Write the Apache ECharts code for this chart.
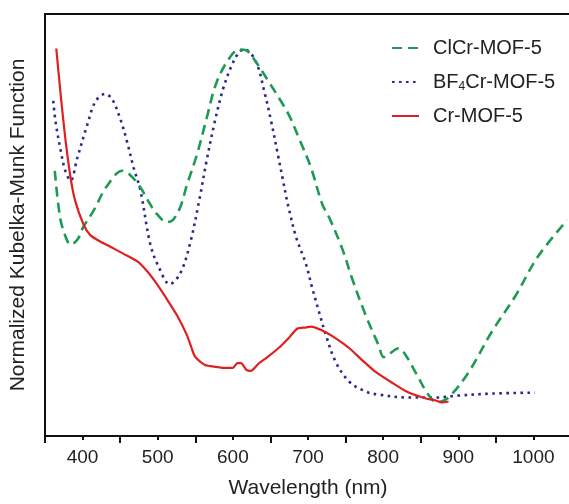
<!DOCTYPE html>
<html><head><meta charset="utf-8">
<script src="https://cdn.jsdelivr.net/npm/echarts@6/dist/echarts.min.js"></script>
<style>html,body{margin:0;padding:0;background:#fff;overflow:hidden;width:569px;height:504px}#c{width:600px;height:504px}</style>
</head><body><div id="c"></div>
<script>
// Wavelength (nm) and normalized Kubelka-Munk values (arbitrary units)
const clcrX = [363,370,377,384,393,401,415,432,453,463,477,490,499,512,520,530,539,552,565,578,596,609,618,631,648,662,675,688,704,719,728,746,759,777,794,801,821,830,845,860,872,887,914,944,976,1006,1045];
const clcrY = [269,222,203,194,199,212,229,253,269,265,252,235,225,217,219,232,255,285,322,358,384,392,391,379,359,342,325,302,272,235,222,189,159,122,92,80,89,82,62,42,34,39,65,105,142,182,219];

const bf4X = [361,364,371,377,384,393,406,417,430,439,450,459,468,477,490,501,516,530,543,556,565,576,587,598,609,616,631,642,651,660,666,672,675,684,697,706,715,724,737,755,777,794,834,870,900,944,1002];
const bf4Y = [340,319,289,269,259,282,315,339,347,342,322,299,272,249,195,172,154,165,195,242,279,319,352,375,390,392,379,349,319,285,262,239,229,202,175,149,125,102,75,55,45,42,39,39,41,43,44];

const crX = [365,371,377,384,390,401,410,424,437,454,473,486,499,512,526,539,547,550,563,578,587,600,606,611,618,624,635,646,662,675,686,697,704,719,737,755,772,790,812,834,857,870,878,887];
const crY = [393,345,302,262,239,215,204,197,192,185,177,167,154,139,122,102,85,80,72,70,69,69,74,74,67,66,74,80,90,100,109,110,111,107,99,89,77,65,54,44,38,36,34,35];

const xTicks = [400,500,600,700,800,900,1000];
const names = ['ClCr-MOF-5','BF4Cr-MOF-5','Cr-MOF-5'];

const zip = (xs, ys) => xs.map((x, i) => [x, ys[i]]);
const chart = echarts.init(document.getElementById('c'), null, {renderer:'canvas', width:600, height:504});
const FONT = 'Liberation Sans, Arial, sans-serif';
chart.setOption({
  animation:false,
  backgroundColor:'#fff',
  grid:{left:44, top:14, bottom:62, width:527, show:true, borderColor:'#111', borderWidth:2, backgroundColor:'transparent'},
  legend:{
    orient:'vertical', left:391, top:36, padding:0, itemWidth:27, itemHeight:14, itemGap:10,
    data:names,
    itemStyle:{opacity:0},
    formatter: n => n === 'BF4Cr-MOF-5' ? 'BF{s|4}Cr-MOF-5' : n,
    textStyle:{fontFamily:FONT, fontSize:20, color:'#222', lineHeight:24, padding:[0,0,0,9],
      rich:{s:{fontSize:12, fontFamily:FONT, color:'#222', padding:[10,0,0,0]}}}
  },
  xAxis:{
    type:'value', min:350, max:1050, interval:100,
    name:'Wavelength (nm)', nameLocation:'middle', nameGap:42,
    nameTextStyle:{fontFamily:FONT, fontSize:21, color:'#222'},
    axisLine:{show:true, lineStyle:{color:'#111', width:2}},
    axisTick:{show:true, inside:false, length:7, lineStyle:{color:'#111', width:2}},
    minorTick:{show:true, splitNumber:2, length:4, lineStyle:{color:'#111', width:2}},
    axisLabel:{fontFamily:FONT, fontSize:19, color:'#222', margin:12,
      customValues:xTicks, formatter: v => String(v)},
    splitLine:{show:false}
  },
  yAxis:{
    type:'value', min:0, max:428,
    name:'Normalized Kubelka-Munk Function', nameLocation:'middle', nameGap:16,
    nameTextStyle:{fontFamily:FONT, fontSize:21, color:'#222'},
    axisLine:{show:true, lineStyle:{color:'#111', width:2}},
    axisTick:{show:false}, axisLabel:{show:false}, splitLine:{show:false}
  },
  series:[
    {name:names[0], type:'line', data:zip(clcrX, clcrY), showSymbol:false, symbol:'none', smooth:0.35,
      lineStyle:{color:'#1f9a55', width:2.6, type:[10,6]}, itemStyle:{color:'#1f9a55'}, z:3},
    {name:names[1], type:'line', data:zip(bf4X, bf4Y), showSymbol:false, symbol:'none', smooth:0.35,
      lineStyle:{color:'#2a2a8a', width:2.6, type:[2.6,4.4]}, itemStyle:{color:'#2a2a8a'}, z:2},
    {name:names[2], type:'line', data:zip(crX, crY), showSymbol:false, symbol:'none', smooth:0.2,
      lineStyle:{color:'#e02020', width:2.2, type:'solid'}, itemStyle:{color:'#e02020'}, z:4}
  ]
});
</script></body></html>
